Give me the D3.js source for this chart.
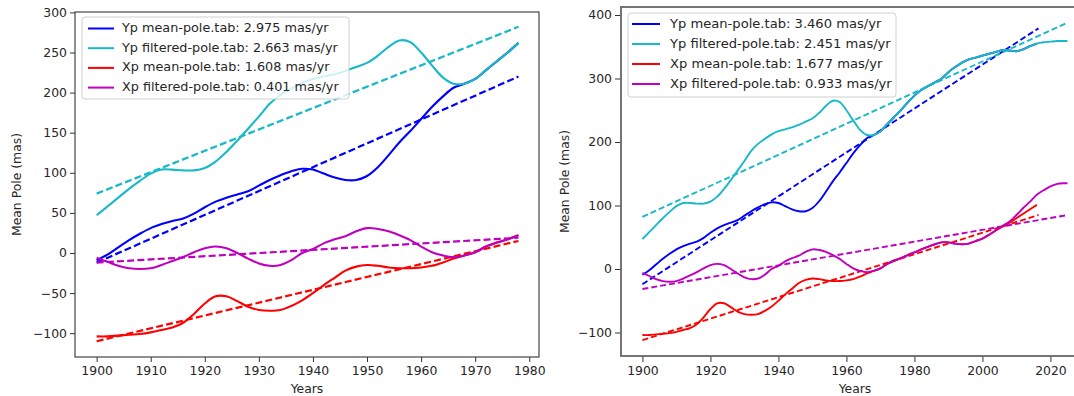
<!DOCTYPE html>
<html>
<head>
<meta charset="utf-8">
<script src="https://cdn.jsdelivr.net/npm/d3@7"></script>
<style>
body { margin: 0; background: #fff; }
text { font-family: "DejaVu Sans", sans-serif; }
</style>
</head>
<body>
<script>
var width = 1074;
var height = 396;

// years of the smoothed pole series (every 2 yr, last point 2025)
const years = [1900,1902,1904,1906,1908,1910,1912,1914,1916,1918,1920,1922,1924,1926,1928,1930,
  1932,1934,1936,1938,1940,1942,1944,1946,1948,1950,1952,1954,1956,1958,1960,1962,1964,1966,1968,
  1970,1972,1974,1976,1978,1980,1982,1984,1986,1988,1990,1992,1994,1996,1998,2000,2002,2004,2006,
  2008,2010,2012,2014,2016,2018,2020,2022,2024,2025];

// mean-pole.tab stops at 2016, filtered-pole.tab runs to 2025
const ypMean = [-9,-2,7,16,24,31,36,40,43,49,57,64,69,73,77,84,91,97,102,105,104,99,94,91,91,96,
  107,122,138,152,167,182,195,206,211,217,228,239,250,262,273,282,288,294,300,310,318,325,330,333,
  336,339,342,345,344,343,346,351,355];
const ypFiltered = [47,58,69,80,90,99,104,104,103,103,106,114,126,140,155,170,186,197,205,212,217,
  220,223,227,232,237,246,257,265,263,250,234,219,211,211,217,228,239,250,262,273,282,288,294,300,
  310,318,325,330,333,336,339,342,345,344,343,346,351,355,357,358,359,359,359];
const xpMean = [-104,-104,-103,-102,-101,-99,-96,-93,-87,-76,-63,-54,-54,-60,-67,-71,-72,-71,-66,
  -59,-50,-40,-31,-22,-17,-15,-16,-18,-19,-19,-18,-16,-12,-7,-3,1,8,13,17,22,26,31,35,39,42,42,40,
  39,40,44,48,54,61,67,73,80,87,94,101];
const xpFiltered = [-6,-11,-16,-19,-20,-19,-15,-10,-5,1,6,8,6,0,-7,-13,-16,-15,-9,0,5,12,17,21,27,
  31,30,27,22,16,8,1,-3,-5,-3,1,8,13,17,22,26,31,35,39,42,42,40,39,40,44,48,54,61,68,75,85,96,106,
  117,124,130,134,135,135];

const seriesNames = ["Yp mean-pole.tab", "Yp filtered-pole.tab", "Xp mean-pole.tab", "Xp filtered-pole.tab"];
const seriesColors = ["#0000ff", "#17b9c6", "#ff0000", "#bf00bf"];

// linear fits: [start, end] values
const leftRates = ["2.975", "2.663", "1.608", "0.401"];
const leftFitYears = [[1900, 1978], [1900, 1978], [1900, 1978], [1900, 1978]];
const leftFits = [[-12, 220], [74, 282], [-110, 15], [-12, 19]];

const rightRates = ["3.460", "2.451", "1.677", "0.933"];
const rightFitYears = [[1900, 2016.5], [1900, 2025], [1900, 2016.5], [1900, 2025]];
const rightFits = [[-24, 379], [82, 388], [-112, 85], [-31.5, 85]];

const leftXTicks = [1900,1910,1920,1930,1940,1950,1960,1970,1980];
const leftYTicks = [-100,-50,0,50,100,150,200,250,300];
const rightXTicks = [1900,1920,1940,1960,1980,2000,2020];
const rightYTicks = [-100,0,100,200,300,400];

var allSeries = [ypMean, ypFiltered, xpMean, xpFiltered];

var svg = d3.select("body").append("svg")
    .attr("width", width)
    .attr("height", height);

var panels = [
  { id: "L", x0: 75, x1: 539, y0: 12, y1: 357, xd: [1896, 1981.8], yd: [-129.7, 300.5],
    lastYear: 1978, xticks: leftXTicks, yticks: leftYTicks, rates: leftRates,
    fitYears: leftFitYears, fits: leftFits, frame: "#333", frameW: 1.1,
    solidW: 2.1, dashW: 2.2, dash: "7,3.2", tickLen: 5, fs: "12.8px",
    legend: { x: 82, y: 17, w: 267, h: 82, row0: 28.5, step: 19.7, hx: 88, hw: 26, tx: 122 },
    ylabX: 17, xlabX: 307 },
  { id: "R", x0: 621, x1: 1088, y0: 7, y1: 356, xd: [1893.7, 2031.05], yd: [-137, 412.6],
    lastYear: 2025, xticks: rightXTicks, yticks: rightYTicks, rates: rightRates,
    fitYears: rightFitYears, fits: rightFits, frame: "#666", frameW: 1.8,
    solidW: 1.9, dashW: 1.9, dash: "6,3", tickLen: 6, fs: "13.1px",
    legend: { x: 628, y: 13, w: 268, h: 84, row0: 24, step: 20, hx: 632, hw: 28, tx: 670 },
    ylabX: 565, xlabX: 855 }
];

panels.forEach(function(p) {
  var x = d3.scaleLinear().domain(p.xd).range([p.x0, p.x1]);
  var y = d3.scaleLinear().domain(p.yd).range([p.y1, p.y0]);

  svg.append("clipPath").attr("id", "clip" + p.id)
    .append("rect")
    .attr("x", p.x0).attr("y", p.y0)
    .attr("width", p.x1 - p.x0).attr("height", p.y1 - p.y0);

  var g = svg.append("g").attr("clip-path", "url(#clip" + p.id + ")");

  var line = d3.line()
    .x(function(d) { return x(d[0]); })
    .y(function(d) { return y(d[1]); })
    .curve(d3.curveCatmullRom.alpha(0.5));

  allSeries.forEach(function(vals, i) {
    var pts = [];
    for (let k = 0; k < vals.length; k++) {
      if (years[k] <= p.lastYear) pts.push([years[k], vals[k]]);
    }
    g.append("path")
      .attr("d", line(pts))
      .attr("fill", "none")
      .attr("stroke", seriesColors[i])
      .attr("stroke-width", p.solidW);
    var fy = p.fitYears[i], fv = p.fits[i];
    g.append("line")
      .attr("x1", x(fy[0])).attr("y1", y(fv[0]))
      .attr("x2", x(fy[1])).attr("y2", y(fv[1]))
      .attr("stroke", seriesColors[i])
      .attr("stroke-width", p.dashW)
      .attr("stroke-dasharray", p.dash);
  });

  // axes
  var xa = svg.append("g")
    .attr("transform", "translate(0," + p.y1 + ")")
    .call(d3.axisBottom(x).tickValues(p.xticks).tickFormat(d3.format("d")).tickSize(p.tickLen).tickPadding(4));
  var ya = svg.append("g")
    .attr("transform", "translate(" + p.x0 + ",0)")
    .call(d3.axisLeft(y).tickValues(p.yticks).tickFormat(function(d) { return d < 0 ? "\u2212" + (-d) : d; }).tickSize(p.tickLen).tickPadding(3));
  [xa, ya].forEach(function(a) {
    a.select(".domain").remove();
    a.selectAll(".tick line").attr("stroke", "#333").attr("stroke-width", 1);
    a.selectAll(".tick text").attr("fill", "#262626").style("font-size", "12.4px")
      .style("font-family", "'DejaVu Sans', sans-serif");
  });

  svg.append("rect")
    .attr("x", p.x0).attr("y", p.y0)
    .attr("width", p.x1 - p.x0).attr("height", p.y1 - p.y0)
    .attr("fill", "none")
    .attr("stroke", p.frame)
    .attr("stroke-width", p.frameW);

  // axis labels
  svg.append("text")
    .attr("x", p.xlabX).attr("y", 389)
    .attr("text-anchor", "middle")
    .attr("dominant-baseline", "middle")
    .attr("fill", "#262626")
    .style("font-size", "12.4px")
    .text("Years");
  svg.append("text")
    .attr("transform", "translate(" + p.ylabX + "," + ((p.y0 + p.y1) / 2) + ") rotate(-90)")
    .attr("text-anchor", "middle")
    .attr("dominant-baseline", "middle")
    .attr("fill", "#262626")
    .style("font-size", "12.4px")
    .text("Mean Pole (mas)");

  // legend
  var L = p.legend;
  var lg = svg.append("g");
  lg.append("rect")
    .attr("x", L.x).attr("y", L.y).attr("width", L.w).attr("height", L.h)
    .attr("rx", 3)
    .attr("fill", "#fff").attr("fill-opacity", 0.8)
    .attr("stroke", "#d0d0d0");
  seriesNames.forEach(function(name, i) {
    var ry = L.row0 + i * L.step;
    lg.append("line")
      .attr("x1", L.hx).attr("x2", L.hx + L.hw)
      .attr("y1", ry).attr("y2", ry)
      .attr("stroke", seriesColors[i]).attr("stroke-width", 2);
    lg.append("text")
      .attr("x", L.tx).attr("y", ry)
      .attr("dominant-baseline", "middle")
      .attr("fill", "#262626")
      .style("font-size", p.fs)
      .text(name + ": " + p.rates[i] + " mas/yr");
  });
});
</script>
</body>
</html>
